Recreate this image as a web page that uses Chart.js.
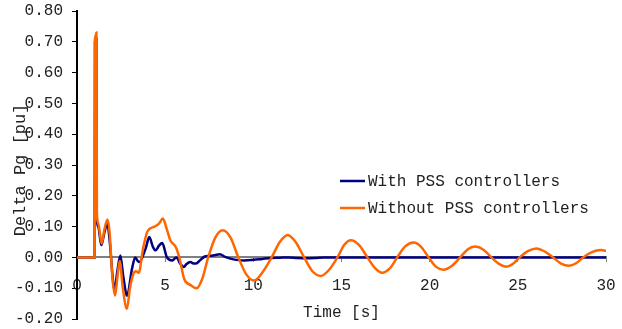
<!DOCTYPE html>
<html>
<head>
<meta charset="utf-8">
<script src="https://cdn.jsdelivr.net/npm/chart.js@4.4.1/dist/chart.umd.min.js"></script>
<style>
  html, body { margin: 0; padding: 0; background: #fff; }
  #wrap { width: 622px; height: 329px; }
</style>
</head>
<body>
<div id="wrap"><canvas id="chart" width="622" height="329"></canvas></div>
<script>
// series names
var seriesNames = ['With PSS controllers', 'Without PSS controllers'];

// with PSS: time [s] and Delta Pg [pu]
var tWith = [0, 1.0, 1.02, 1.1, 1.12, 1.2, 1.38, 1.55, 1.72, 1.86, 2.0, 2.12, 2.3, 2.46, 2.62, 2.84, 3.12, 3.3, 3.45, 3.56, 3.7, 3.9, 4.1, 4.3, 4.45, 4.65, 4.83, 5.1, 5.4, 5.5, 5.64, 5.85, 6.06, 6.2, 6.44, 6.6, 6.75, 7.0, 7.25, 7.5, 7.8, 8.1, 8.4, 8.7, 9.05, 9.5, 10.0, 10.5, 11.0, 11.5, 12.0, 12.5, 13.0, 13.5, 14.0, 30];
var yWith = [0, 0, 0.70, 0.71, 0.13, 0.10, 0.04, 0.08, 0.11, 0.05, -0.05, -0.107, -0.04, 0.006, -0.06, -0.124, -0.037, 0.0, -0.012, -0.015, 0.0, 0.03, 0.066, 0.035, 0.023, 0.038, 0.047, 0.0, -0.01, -0.006, 0.0, -0.02, -0.031, -0.022, -0.015, -0.02, -0.02, -0.008, 0.003, 0.005, 0.007, 0.01, 0.002, -0.004, -0.008, -0.01, -0.008, -0.005, -0.002, -0.001, 0.0, -0.002, -0.003, -0.002, 0.0, 0.0];

// without PSS
var tWithout = [0, 1.0, 1.02, 1.06, 1.1, 1.13, 1.2, 1.4, 1.55, 1.73, 1.85, 2.0, 2.16, 2.28, 2.42, 2.6, 2.83, 3.0, 3.2, 3.35, 3.5, 3.75, 4.0, 4.4, 4.65, 4.87, 5.1, 5.3, 5.6, 5.8, 6.08, 6.45, 6.78, 7.1, 7.44, 7.85, 8.26, 8.7, 9.15, 9.6, 10.04, 10.5, 11.04, 11.5, 11.95, 12.4, 12.88, 13.35, 13.83, 14.3, 14.77, 15.15, 15.53, 16.0, 16.47, 16.9, 17.31, 17.75, 18.16, 18.6, 19.1, 19.5, 19.94, 20.35, 20.79, 21.25, 21.73, 22.15, 22.58, 23.05, 23.5, 23.95, 24.36, 24.75, 25.1, 25.6, 26.05, 26.5, 27.0, 27.45, 27.9, 28.3, 28.7, 29.2, 29.7, 30.0];
var yWithout = [0, 0, 0.71, 0.72, 0.73, 0.142, 0.11, 0.045, 0.09, 0.123, 0.08, -0.06, -0.124, -0.07, -0.012, -0.10, -0.167, -0.10, -0.053, -0.045, -0.05, 0.03, 0.085, 0.10, 0.11, 0.126, 0.09, 0.055, 0.034, 0.0, -0.07, -0.09, -0.10, -0.07, 0.0, 0.065, 0.088, 0.065, 0.0, -0.055, -0.075, -0.05, 0.0, 0.05, 0.073, 0.05, 0.0, -0.045, -0.06, -0.04, 0.0, 0.04, 0.056, 0.04, 0.0, -0.035, -0.05, -0.035, 0.0, 0.035, 0.048, 0.035, 0.0, -0.03, -0.04, -0.028, 0.0, 0.026, 0.035, 0.025, 0.0, -0.022, -0.03, -0.02, 0.0, 0.021, 0.029, 0.02, 0.0, -0.02, -0.027, -0.019, 0.0, 0.017, 0.024, 0.021];

var seriesColors = ['#000080', '#ff6600'];
var xTitle = 'Time [s]';
var yTitle = 'Delta Pg [pu]';
var FONT = '"Liberation Mono", monospace';

function pairs(ts, ys) {
  return ts.map(function (t, i) { return { x: t, y: ys[i] }; });
}

function noPad(s) {
  s.paddingTop = 0;
  s.paddingBottom = 0;
  s.paddingLeft = 0;
  s.paddingRight = 0;
}

// axis titles + legend drawn on top
var extras = {
  id: 'extras',
  afterDraw: function (chart) {
    var ctx = chart.ctx;
    var area = chart.chartArea;
    ctx.save();
    ctx.fillStyle = '#222';
    ctx.font = '16px ' + FONT;
    ctx.textAlign = 'center';
    ctx.textBaseline = 'middle';
    ctx.fillText(xTitle, (area.left + area.right) / 2, 313);

    ctx.save();
    ctx.translate(20, 170);
    ctx.rotate(-Math.PI / 2);
    ctx.font = '17px ' + FONT;
    ctx.fillText(yTitle, 0, 0);
    ctx.restore();

    ctx.textAlign = 'left';
    ctx.font = '16px ' + FONT;
    chart.data.datasets.forEach(function (ds, i) {
      var y = 181 + i * 27;
      ctx.strokeStyle = ds.borderColor;
      ctx.lineWidth = 2.5;
      ctx.beginPath();
      ctx.moveTo(340, y);
      ctx.lineTo(365, y);
      ctx.stroke();
      ctx.fillStyle = '#222';
      ctx.fillText(ds.label, 368, y + 1);
    });
    ctx.restore();
  }
};

new Chart(document.getElementById('chart'), {
  type: 'line',
  data: {
    datasets: [
      { label: seriesNames[0], data: pairs(tWith, yWith), borderColor: seriesColors[0], order: 1 },
      { label: seriesNames[1], data: pairs(tWithout, yWithout), borderColor: seriesColors[1], order: 0 }
    ]
  },
  options: {
    responsive: false,
    animation: false,
    devicePixelRatio: 1,
    layout: { padding: { left: 0, top: 11, right: 16, bottom: 10 } },
    elements: {
      point: { radius: 0 },
      line: { borderWidth: 2.5, fill: false, cubicInterpolationMode: 'monotone' }
    },
    plugins: {
      legend: { display: false },
      tooltip: { enabled: false }
    },
    scales: {
      x: {
        type: 'linear',
        position: { y: 0 },
        min: 0,
        max: 30,
        border: { color: '#808080', width: 2 },
        grid: { drawOnChartArea: false, drawTicks: true, tickLength: 4, color: '#808080' },
        ticks: {
          stepSize: 5,
          padding: 15,
          color: '#222',
          font: { family: FONT, size: 16 },
          maxRotation: 0
        },
        afterFit: noPad
      },
      y: {
        min: -0.2,
        max: 0.8,
        border: { color: '#000', width: 2 },
        grid: { drawOnChartArea: false, drawTicks: true, tickLength: 5, color: '#000' },
        ticks: {
          stepSize: 0.1,
          padding: 9,
          color: '#222',
          font: { family: FONT, size: 16 },
          callback: function (v) { return v.toFixed(2); }
        },
        afterFit: function (s) { noPad(s); s.width = 77; }
      }
    }
  },
  plugins: [extras]
});
</script>
</body>
</html>
